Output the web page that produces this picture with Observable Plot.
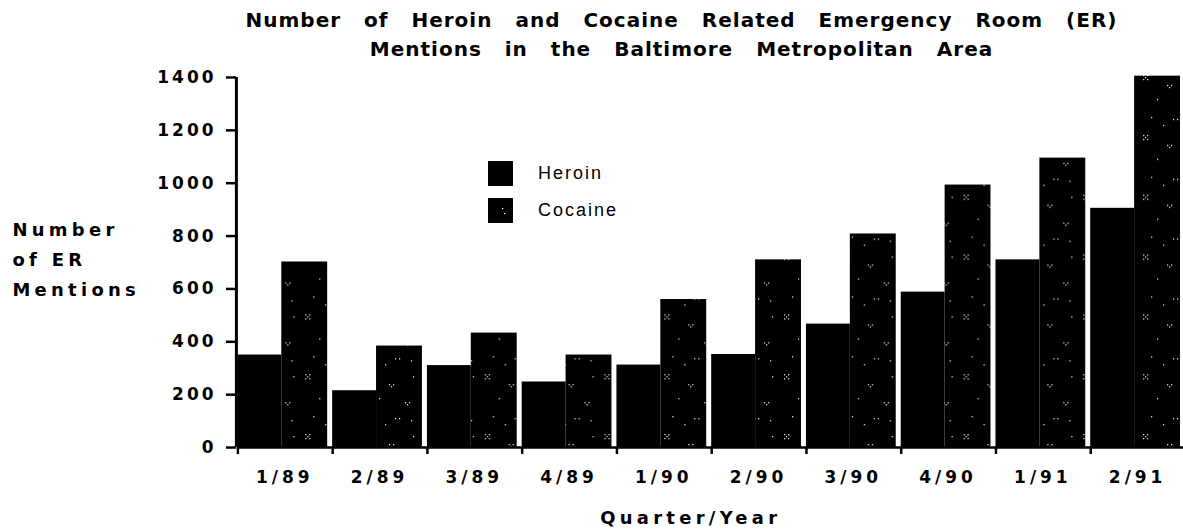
<!DOCTYPE html>
<html><head><meta charset="utf-8">
<script src="https://cdn.jsdelivr.net/npm/d3@7"></script>
<script src="https://cdn.jsdelivr.net/npm/@observablehq/plot@0.6"></script>
<style>
html,body{margin:0;padding:0;background:#fff;overflow:hidden;}
#wrap{position:relative;width:1183px;height:532px;overflow:hidden;}
#title{font-family:"DejaVu Sans",sans-serif;font-weight:bold;font-size:20px;letter-spacing:1px;word-spacing:15px;line-height:29px;padding-top:6px;height:63px;text-align:center;margin-left:180px;width:1003px;white-space:nowrap;color:#000;}
#legend{position:absolute;left:488px;top:161px;font-family:"Liberation Sans",Arial,sans-serif;font-size:18px;letter-spacing:2px;color:#000;}
#legend .row{display:flex;align-items:center;height:25px;margin-bottom:12px;}
#legend .sw{width:25px;height:25px;margin-right:25px;}
#chart svg text{letter-spacing:3px;}
#chart svg g[aria-label="x-axis tick label"] text{letter-spacing:4px;}
#chart svg g[aria-label="text"] text{letter-spacing:4.3px;}
</style>
</head><body>
<div id="wrap">
<div id="title">Number of Heroin and Cocaine Related Emergency Room (ER)<br>Mentions in the Baltimore Metropolitan Area</div>
<div id="chart"></div>
<div id="legend"></div>
</div>
<script>
const quarters = ["1/89","2/89","3/89","4/89","1/90","2/90","3/90","4/90","1/91","2/91"];
const heroin  = [350, 215, 310, 248, 312, 352, 467, 588, 710, 905];
const cocaine = [702, 384, 433, 350, 560, 710, 808, 993, 1095, 1405];
const yTicks = [0, 200, 400, 600, 800, 1000, 1200, 1400];
const seriesNames = ["Heroin", "Cocaine"];
const yLabel = "Number\nof ER\nMentions";
const xLabel = "Quarter/Year";

const heroinRows = quarters.map((q, i) => ({quarter: q, series: seriesNames[0], value: heroin[i]}));
const cocaineRows = quarters.map((q, i) => ({quarter: q, series: seriesNames[1], value: cocaine[i]}));

const font = '"DejaVu Sans", sans-serif';
const chart = Plot.plot({
  width: 1186, height: 463,
  marginLeft: 238, marginRight: 0, marginTop: 8, marginBottom: 84,
  style: {fontFamily: font, fontWeight: "bold", fontSize: "17px", color: "#000", background: "transparent", overflow: "visible"},
  x: {domain: quarters, paddingInner: 0.055, paddingOuter: 0, align: 0, axis: null},
  y: {domain: [0, 1400], axis: null},
  marks: [
    Plot.barY(heroinRows, {x: "quarter", y: "value", fill: "#000", insetRight: 46}),
    Plot.barY(cocaineRows, {x: "quarter", y: "value", fill: "url(#dots)", insetLeft: 44}),
    Plot.ruleY([0], {stroke: "#000", strokeWidth: 2.5}),
    Plot.ruleX([quarters[0]], {stroke: "#000", strokeWidth: 3, dx: -46.5}),
    Plot.axisY({ticks: yTicks, tickSize: 10, tickPadding: 10, tickFormat: d => String(d), stroke: "#000", strokeWidth: 2.5, label: null, dx: -1.5}),
    Plot.axisX({tickSize: 7, text: null, stroke: "#000", strokeWidth: 2.5, label: null, dx: -45}),
    Plot.axisX({tickSize: 0, tickPadding: 23, label: null, dx: 2}),
    Plot.text([yLabel], {frameAnchor: "left", dx: -226, dy: -6, textAnchor: "start", lineHeight: 1.65, fontSize: 18, fontWeight: "bold"}),
    Plot.text([xLabel], {frameAnchor: "bottom", dy: 77, dx: -20, fontSize: 18, fontWeight: "bold"})
  ]
});

const ns = "http://www.w3.org/2000/svg";
const defs = document.createElementNS(ns, "defs");
const dotPts = [[6,6],[10,6],[8,8],[6,10],[10,10],[30,16],[34,16],[32,18],[20,30],[46,34],[50,34],[48,36],[14,48],[36,50],[40,50],[54,8],[26,56],[52,52]];
defs.innerHTML = `<pattern id="dots" patternUnits="userSpaceOnUse" width="60" height="60"><rect width="60" height="60" fill="#000"/>${dotPts.map(([x,y]) => `<rect x="${x}" y="${y}" width="1.2" height="1.2" fill="#fff"/>`).join("")}</pattern>`;
chart.insertBefore(defs, chart.firstChild);
document.getElementById("chart").append(chart);

const legend = document.getElementById("legend");
seriesNames.forEach((name, i) => {
  const row = document.createElement("div");
  row.className = "row";
  const sw = document.createElement("div");
  sw.className = "sw";
  sw.style.background = "#000";
  if (i === 1) {
    sw.innerHTML = '<svg width="25" height="25"><rect x="14" y="10" width="1.2" height="1.2" fill="#fff"/><rect x="16" y="15" width="1.2" height="1.2" fill="#fff"/></svg>';
  }
  const label = document.createElement("span");
  label.textContent = name;
  row.append(sw, label);
  legend.append(row);
});
</script>
</body></html>
